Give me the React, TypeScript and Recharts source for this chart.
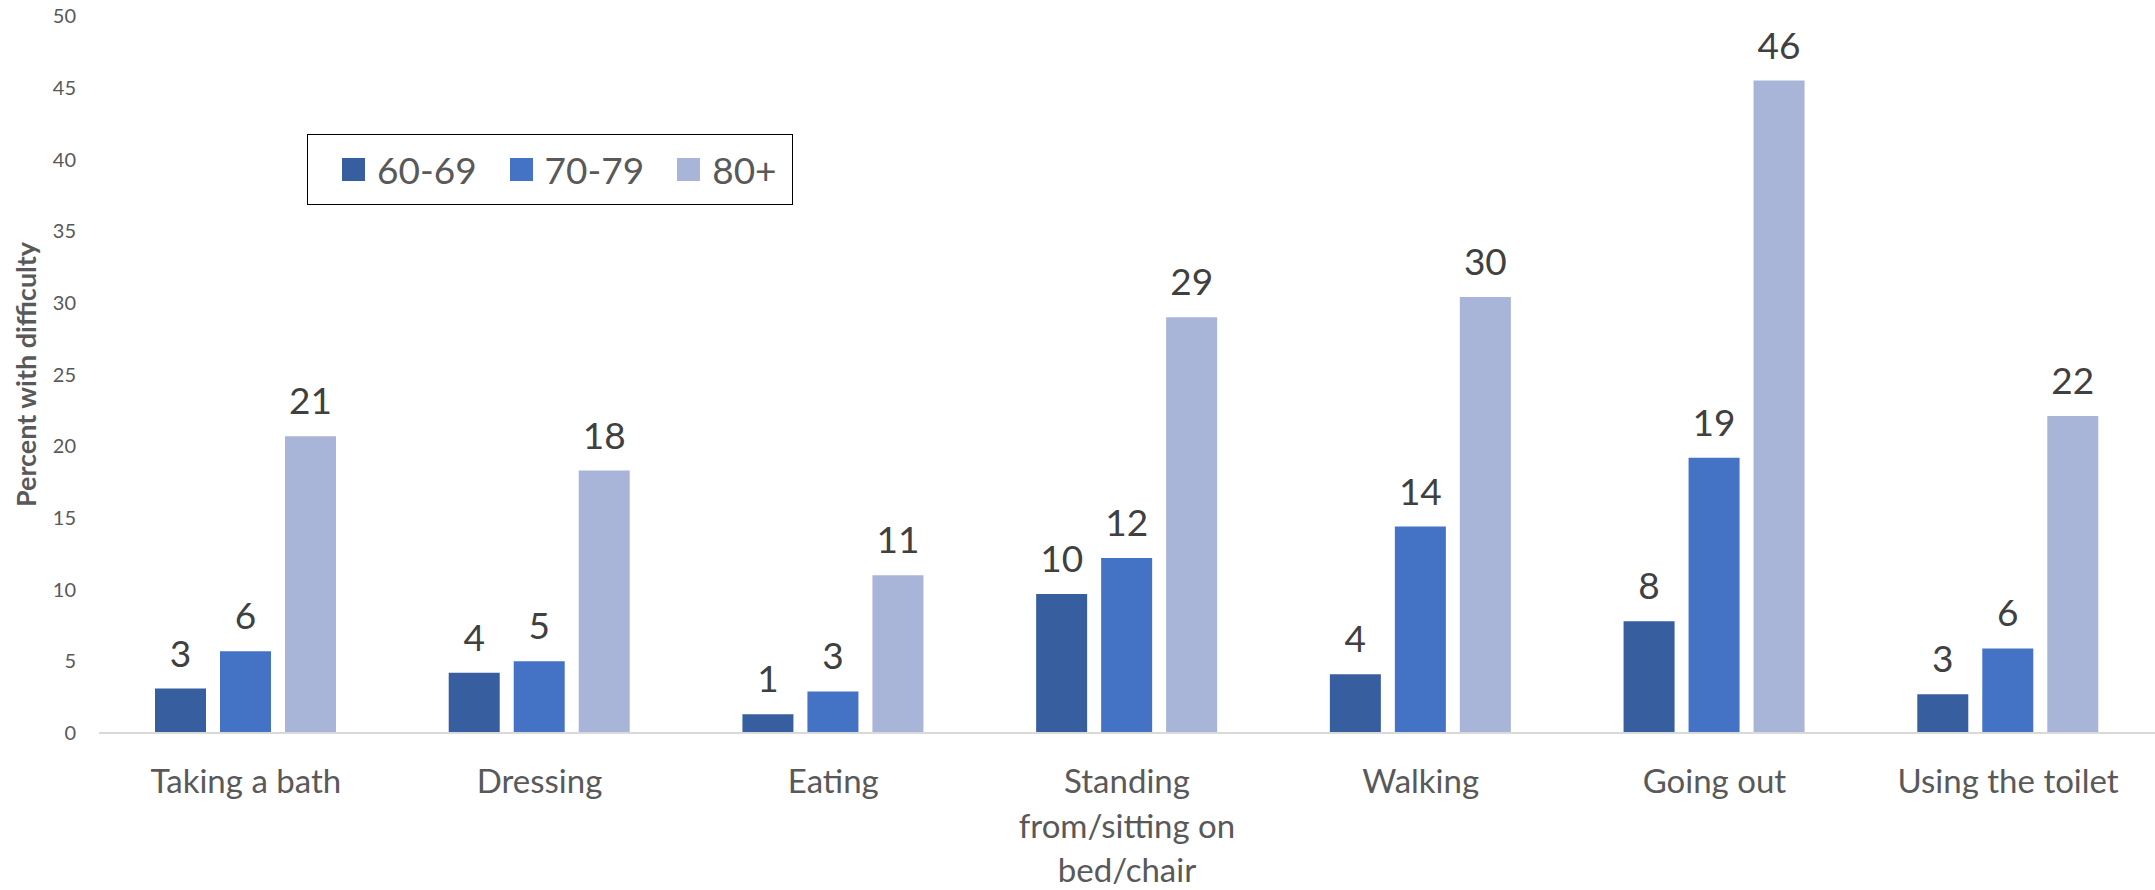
import { Bar, BarChart, LabelList, Legend, XAxis, YAxis } from "recharts";

const FONT = "Lato, 'Open Sans', sans-serif";

// category names; "\n" marks where the axis label wraps
const categories = [
  "Taking a bath",
  "Dressing",
  "Eating",
  "Standing\nfrom/sitting on\nbed/chair",
  "Walking",
  "Going out",
  "Using the toilet",
];
const age6069 = [3.1, 4.2, 1.3, 9.7, 4.1, 7.8, 2.7];
const age7079 = [5.7, 5.0, 2.9, 12.2, 14.4, 19.2, 5.9];
const age80plus = [20.7, 18.3, 11.0, 29.0, 30.4, 45.5, 22.1];
const yTicks = [0, 5, 10, 15, 20, 25, 30, 35, 40, 45, 50];

const series = [
  { key: "a6069", name: "60-69", color: "#375E9F" },
  { key: "a7079", name: "70-79", color: "#4472C4" },
  { key: "a80", name: "80+", color: "#A8B5D9" },
];

const data = categories.map((category, i) => ({
  category,
  a6069: age6069[i],
  a7079: age7079[i],
  a80: age80plus[i],
}));

function CategoryTick({ x, y, payload }: any) {
  const lines = String(payload.value).split("\n");
  return (
    <text x={x} y={y} textAnchor="middle" fill="#595959" style={{ fontFamily: FONT, fontSize: 33 }}>
      {lines.map((line, i) => (
        <tspan key={i} x={x} dy={i === 0 ? 0 : 44.5}>
          {line}
        </tspan>
      ))}
    </text>
  );
}

function LegendBox({ payload }: any) {
  return (
    <div
      style={{
        display: "flex",
        alignItems: "center",
        boxSizing: "border-box",
        width: 486,
        height: 71,
        border: "1.5px solid #000",
        background: "#fff",
        paddingLeft: 34,
        fontFamily: FONT,
        whiteSpace: "nowrap",
        overflow: "hidden",
      }}
    >
      {(payload || []).map((entry: any) => (
        <div key={entry.value} style={{ display: "flex", alignItems: "center", marginRight: 33, flexShrink: 0 }}>
          <span style={{ display: "inline-block", width: 23, height: 23, background: entry.color, marginRight: 12 }} />
          <span style={{ fontSize: 37, color: "#595959", lineHeight: 1 }}>{entry.value}</span>
        </div>
      ))}
    </div>
  );
}

export default function App() {
  return (
    <div style={{ position: "absolute", left: 0, top: 0, background: "#fff", fontFamily: FONT }}>
      <BarChart
        width={2155}
        height={890}
        data={data}
        barSize={51}
        barGap={14}
        margin={{ top: 16, right: 0, bottom: 0, left: 0 }}
        style={{ fontFamily: FONT }}
      >
        <XAxis
          dataKey="category"
          height={157}
          interval={0}
          tick={<CategoryTick />}
          tickLine={false}
          tickSize={0}
          tickMargin={60}
          axisLine={{ stroke: "#D9D9D9", strokeWidth: 2 }}
        />
        <YAxis
          width={99}
          domain={[0, 50]}
          ticks={yTicks}
          interval={0}
          axisLine={false}
          tickLine={false}
          tickSize={0}
          tickMargin={23}
          tick={{ fill: "#595959", fontSize: 20, fontFamily: FONT }}
          label={{
            value: "Percent with difficulty",
            angle: -90,
            position: "insideLeft",
            offset: 26,
            fill: "#595959",
            style: { textAnchor: "middle", fontWeight: 700, fontSize: 27, fontFamily: FONT },
          }}
        />
        <Legend
          layout="vertical"
          align="center"
          verticalAlign="middle"
          content={<LegendBox />}
          wrapperStyle={{ left: 307, top: 134, width: 486, height: 71 }}
        />
        {series.map((s) => (
          <Bar key={s.key} dataKey={s.key} name={s.name} fill={s.color} isAnimationActive={false}>
            <LabelList
              dataKey={s.key}
              position="top"
              offset={22}
              formatter={(v: any) => Math.round(Number(v))}
              style={{ fill: "#404040", fontSize: 37, fontFamily: FONT }}
            />
          </Bar>
        ))}
      </BarChart>
    </div>
  );
}
